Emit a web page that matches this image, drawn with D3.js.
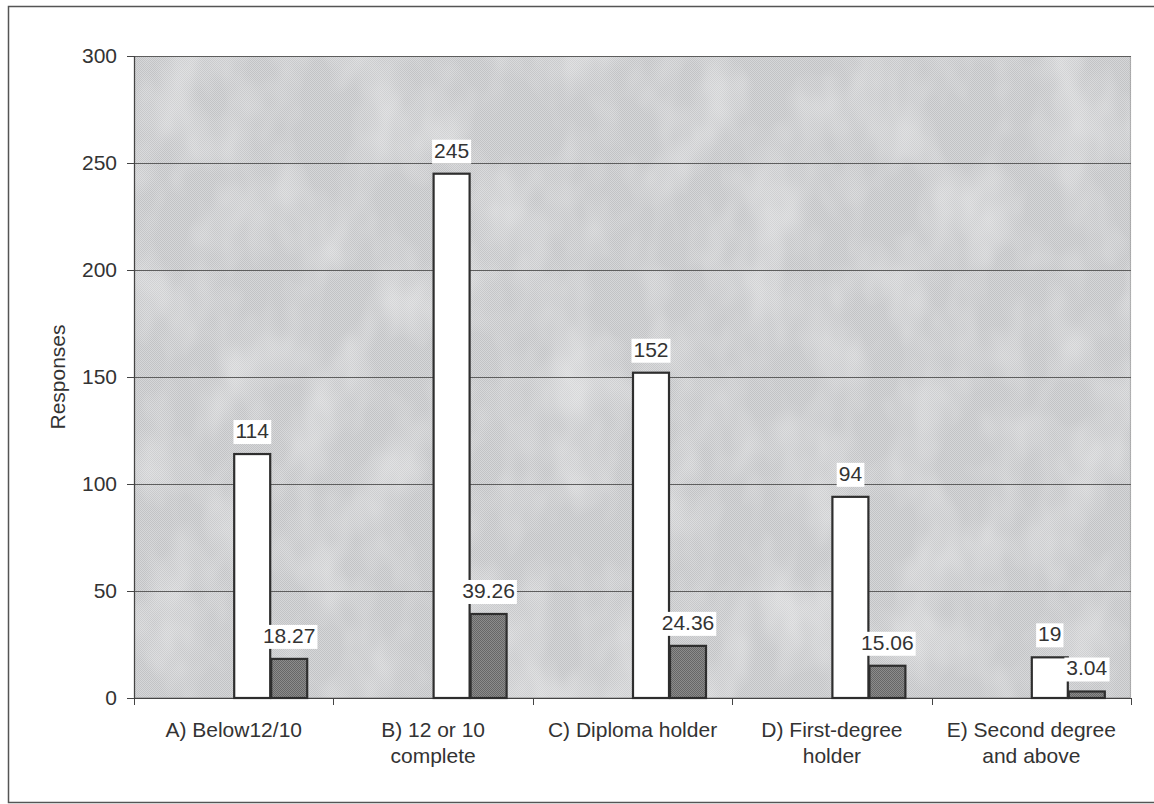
<!DOCTYPE html>
<html>
<head>
<meta charset="utf-8">
<script src="https://cdn.jsdelivr.net/npm/d3@7"></script>
<style>
  html, body { margin: 0; padding: 0; background: #fff; }
  svg { display: block; }
  text { font-family: "Liberation Sans", Arial, sans-serif; fill: #333; }
</style>
</head>
<body>
<svg id="chart" width="1154" height="804"></svg>
<script>
// Education level categories (two-line labels split on "\n")
const categories = [
  "A) Below12/10",
  "B) 12 or 10\ncomplete",
  "C) Diploma holder",
  "D) First-degree\nholder",
  "E) Second degree\nand above"
];
// Number of responses per category
const responses = [114, 245, 152, 94, 19];
// Share of responses, percent
const percentages = [18.27, 39.26, 24.36, 15.06, 3.04];
// Value axis ticks
const yTicks = [0, 50, 100, 150, 200, 250, 300];

const svg = d3.select("#chart");
const plot = { left: 134, right: 1131, top: 56, bottom: 698 };
const FS = 21;

// Outer frame
svg.append("path")
  .attr("d", `M1160,6.5 H8.5 V802.5 H1160`)
  .attr("fill", "none").attr("stroke", "#555").attr("stroke-width", 1.5);

const defs = svg.append("defs");

// Fine checker dither for the plot background
const bgPat = defs.append("pattern").attr("id", "bgfill")
  .attr("width", 2).attr("height", 2).attr("patternUnits", "userSpaceOnUse");
bgPat.append("rect").attr("width", 2).attr("height", 2).attr("fill", "#d6d7d9");
bgPat.append("rect").attr("width", 1).attr("height", 1).attr("fill", "#c2c3c5");
bgPat.append("rect").attr("x", 1).attr("y", 1).attr("width", 1).attr("height", 1).attr("fill", "#c2c3c5");

// Soft light mottling over the background
const f = defs.append("filter").attr("id", "mottle")
  .attr("x", 0).attr("y", 0).attr("width", "100%").attr("height", "100%");
f.append("feTurbulence").attr("type", "fractalNoise")
  .attr("baseFrequency", "0.02 0.012").attr("numOctaves", 3).attr("seed", 11);
f.append("feColorMatrix").attr("type", "matrix")
  .attr("values", "0 0 0 0 1  0 0 0 0 1  0 0 0 0 1  0.7 0 0 0 -0.28");

// Soft dark mottling
const f2 = defs.append("filter").attr("id", "mottleDark")
  .attr("x", 0).attr("y", 0).attr("width", "100%").attr("height", "100%");
f2.append("feTurbulence").attr("type", "fractalNoise")
  .attr("baseFrequency", "0.015 0.025").attr("numOctaves", 2).attr("seed", 3);
f2.append("feColorMatrix").attr("type", "matrix")
  .attr("values", "0 0 0 0 0.55  0 0 0 0 0.55  0 0 0 0 0.57  0.4 0 0 0 -0.26");

// Dithered fill for the percentage bars
const dither = defs.append("pattern").attr("id", "darkfill")
  .attr("width", 2).attr("height", 2).attr("patternUnits", "userSpaceOnUse");
dither.append("rect").attr("width", 2).attr("height", 2).attr("fill", "#8c8c8c");
dither.append("rect").attr("width", 1).attr("height", 1).attr("fill", "#666");
dither.append("rect").attr("x", 1).attr("y", 1).attr("width", 1).attr("height", 1).attr("fill", "#666");

const y = d3.scaleLinear().domain([0, 300]).range([plot.bottom, plot.top]);
const x0 = d3.scaleBand().domain(categories).range([plot.left, plot.right]).padding(0);
const barW = 37;

const pw = plot.right - plot.left, ph = plot.bottom - plot.top;
svg.append("rect").attr("x", plot.left).attr("y", plot.top)
  .attr("width", pw).attr("height", ph).attr("fill", "url(#bgfill)");
svg.append("rect").attr("x", plot.left).attr("y", plot.top)
  .attr("width", pw).attr("height", ph).attr("filter", "url(#mottleDark)");
svg.append("rect").attr("x", plot.left).attr("y", plot.top)
  .attr("width", pw).attr("height", ph).attr("filter", "url(#mottle)");

// Plot area border (dotted grey)
svg.append("rect")
  .attr("x", plot.left + 0.5).attr("y", plot.top + 0.5)
  .attr("width", pw - 1).attr("height", ph - 1)
  .attr("fill", "none").attr("stroke", "#8a8a8a").attr("stroke-width", 1.2)
  .attr("stroke-dasharray", "1,1");

// Horizontal gridlines
svg.append("g").selectAll("line")
  .data(yTicks.filter(d => d > 0))
  .join("line")
  .attr("x1", plot.left).attr("x2", plot.right)
  .attr("y1", d => Math.round(y(d)) + 0.5).attr("y2", d => Math.round(y(d)) + 0.5)
  .attr("stroke", "#5e5e5e").attr("stroke-width", 1);

// Y axis
const yAxis = svg.append("g")
  .attr("transform", `translate(${plot.left},0)`)
  .call(d3.axisLeft(y).tickValues(yTicks).tickSize(7).tickPadding(10));
yAxis.select(".domain").attr("stroke", "#444").attr("stroke-width", 1.2);
yAxis.selectAll(".tick line").attr("stroke", "#444");
yAxis.selectAll("text").attr("font-size", FS).attr("fill", "#333")
  .style("font-family", '"Liberation Sans", Arial, sans-serif');

svg.append("text")
  .attr("transform", `translate(65,${(plot.top + plot.bottom) / 2}) rotate(-90)`)
  .attr("text-anchor", "middle").attr("font-size", FS)
  .text("Responses");

// X axis with ticks at category boundaries
const xg = svg.append("g");
xg.append("line")
  .attr("x1", plot.left).attr("x2", plot.right)
  .attr("y1", plot.bottom + 0.5).attr("y2", plot.bottom + 0.5)
  .attr("stroke", "#444").attr("stroke-width", 1.2);
const bounds = categories.map(c => x0(c)).concat([plot.right]);
xg.selectAll("line.tk").data(bounds).join("line").attr("class", "tk")
  .attr("x1", d => Math.round(d) + 0.5).attr("x2", d => Math.round(d) + 0.5)
  .attr("y1", plot.bottom).attr("y2", plot.bottom + 7)
  .attr("stroke", "#444");
const lbl = xg.selectAll("text.cat").data(categories).join("text").attr("class", "cat")
  .attr("text-anchor", "middle").attr("font-size", FS)
  .attr("transform", d => `translate(${x0(d) + x0.bandwidth() / 2},737)`);
lbl.each(function (d) {
  d3.select(this).selectAll("tspan").data(d.split("\n")).join("tspan")
    .attr("x", 0).attr("dy", (t, i) => i === 0 ? 0 : 26).text(t => t);
});

// Bars: responses (white) and percentage (dark) side by side, right of category centre
const rows = categories.map((c, i) => ({ c, count: responses[i], pct: percentages[i] }));
const series = [
  { key: "count", fill: "#ffffff", fmt: d3.format("d") },
  { key: "pct", fill: "url(#darkfill)", fmt: d3.format(".2f") }
];
const x1 = d3.scaleBand().domain(series.map(s => s.key)).range([0, 2 * barW]);

const bars = [];
rows.forEach(r => series.forEach(s => bars.push({ c: r.c, key: s.key, v: r[s.key], s })));

const bx = d => x0(d.c) + x0.bandwidth() / 2 + x1(d.key);
svg.append("g").selectAll("rect").data(bars).join("rect")
  .attr("x", d => bx(d) + 0.5)
  .attr("y", d => y(d.v))
  .attr("width", x1.bandwidth() - 1)
  .attr("height", d => y(0) - y(d.v))
  .attr("fill", d => d.s.fill)
  .attr("stroke", "#2e2e2e").attr("stroke-width", 2.2);

// Value labels with white backgrounds
const lg = svg.append("g");
bars.forEach(d => {
  const g = lg.append("g");
  const cx = bx(d) + x1.bandwidth() / 2;
  const t = g.append("text")
    .attr("x", cx).attr("y", y(d.v) - 16)
    .attr("text-anchor", "middle").attr("font-size", FS)
    .text(d.s.fmt(d.v));
  const bb = t.node().getBBox();
  g.insert("rect", "text")
    .attr("x", bb.x - 2).attr("y", bb.y + 1)
    .attr("width", bb.width + 4).attr("height", bb.height + 1)
    .attr("fill", "#fff");
});
</script>
</body>
</html>
